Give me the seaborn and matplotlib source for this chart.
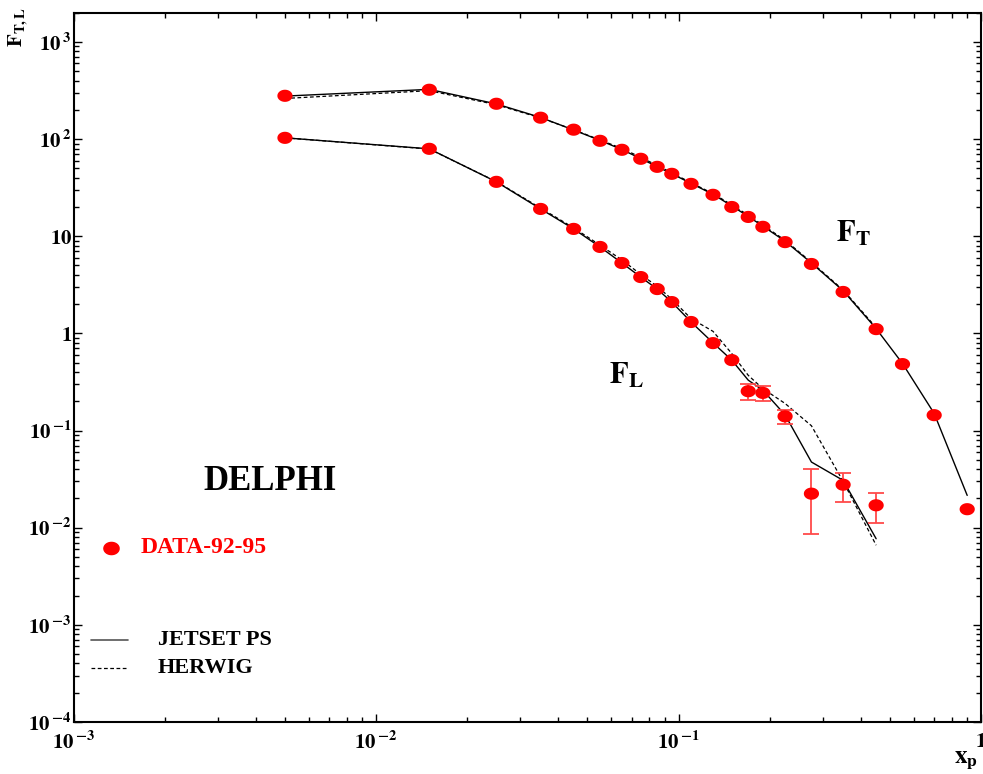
import numpy as np
import matplotlib
matplotlib.use("Agg")
import matplotlib.pyplot as plt
from matplotlib.path import Path
from matplotlib.markers import MarkerStyle
from matplotlib.ticker import FuncFormatter, LogLocator
import seaborn as sns

# x_p bin centres
x_bins = [0.005, 0.015, 0.025, 0.035, 0.045, 0.055, 0.065, 0.075, 0.085, 0.095,
          0.11, 0.13, 0.15, 0.17, 0.19, 0.225, 0.275, 0.35, 0.45, 0.55, 0.7, 0.9]

# F_T: data and the two MC curves
ft_data = [279, 322, 231, 166, 125, 96, 77.6, 62.7, 51.8, 43.9, 34.6, 26.7, 20.0,
           15.8, 12.5, 8.7, 5.18, 2.67, 1.107, 0.483, 0.144, 0.0155]
ft_jetset = [277, 325, 230, 167, 124, 97, 78, 63, 52, 44, 35, 27, 20.5, 16, 12.7,
             8.9, 5.3, 2.75, 1.12, 0.49, 0.150, 0.0215]
ft_herwig = [262, 315, 226, 165, 125, 98, 80, 65, 53.5, 45, 35.5, 27.5, 21, 16.5,
             13, 9.1, 5.4, 2.8, 1.15]

# F_L: data, MC curves, error bands on the last points
fl_data = [103, 79.4, 36.3, 19.1, 11.9, 7.76, 5.3, 3.80, 2.86, 2.10, 1.31, 0.794,
           0.531, 0.254, 0.244, 0.140, 0.0224, 0.0277, 0.017]
fl_jetset = [103, 79.4, 36.3, 19.1, 11.9, 7.76, 5.3, 3.80, 2.86, 2.10, 1.31, 0.80,
             0.53, 0.33, 0.26, 0.145, 0.0474, 0.0307, 0.0077]
fl_herwig = [103, 79, 36.5, 19.5, 12.2, 8.1, 5.7, 4.05, 3.05, 2.25, 1.42, 1.05,
             0.62, 0.37, 0.27, 0.19, 0.112, 0.030, 0.0066]
fl_err_x = [0.17, 0.19, 0.225, 0.275, 0.35, 0.45]
fl_err_y = [0.254, 0.244, 0.140, 0.0224, 0.0277, 0.017]
fl_err_hi = [0.302, 0.288, 0.164, 0.0402, 0.0366, 0.023]
fl_err_lo = [0.204, 0.202, 0.117, 0.00853, 0.01836, 0.01115]

sns.set_style("ticks")
plt.rcParams["font.family"] = ["Liberation Serif", "DejaVu Serif"]
plt.rcParams["font.weight"] = "bold"
plt.rcParams["mathtext.fontset"] = "stix"
for k in ["text.color", "axes.labelcolor", "xtick.color", "ytick.color", "axes.edgecolor"]:
    plt.rcParams[k] = "black"

fig = plt.figure(figsize=(9.83, 7.74), dpi=100)
ax = fig.add_axes([0.0748, 0.0672, 0.9232, 0.9164])

t = np.linspace(0, 2 * np.pi, 40)
ell = MarkerStyle(Path(np.column_stack([1.25 * np.cos(t), np.sin(t)])))

red = "#ff0000"
ebar = "#ff4a4a"

# MC curves
sns.lineplot(x=x_bins, y=ft_jetset, ax=ax, color="black", lw=1.0, sort=False, estimator=None)
sns.lineplot(x=x_bins[:len(ft_herwig)], y=ft_herwig, ax=ax, color="black", lw=0.9,
             linestyle=(0, (3, 2)), sort=False, estimator=None)
sns.lineplot(x=x_bins[:len(fl_jetset)], y=fl_jetset, ax=ax, color="black", lw=1.0,
             sort=False, estimator=None)
sns.lineplot(x=x_bins[:len(fl_herwig)], y=fl_herwig, ax=ax, color="black", lw=0.9,
             linestyle=(0, (3, 2)), sort=False, estimator=None)

# error bars on F_L
yerr = [np.array(fl_err_y) - np.array(fl_err_lo), np.array(fl_err_hi) - np.array(fl_err_y)]
ax.errorbar(fl_err_x, fl_err_y, yerr=yerr, fmt="none", ecolor=ebar, elinewidth=1.3,
            capsize=5.5, capthick=1.3, zorder=3)

# data points
sns.scatterplot(x=x_bins, y=ft_data, ax=ax, marker=ell, s=120, color=red,
                edgecolor="none", zorder=4)
sns.scatterplot(x=x_bins[:len(fl_data)], y=fl_data, ax=ax, marker=ell, s=120,
                color=red, edgecolor="none", zorder=4)

ax.set_xscale("log")
ax.set_yscale("log")
ax.set_xlim(1e-3, 1)
ax.set_ylim(1e-4, 2000)


def fmt(v, pos):
    e = int(round(np.log10(v)))
    if e == 0:
        return r"$\mathbf{1}$"
    if e == 1:
        return r"$\mathbf{10}$"
    return r"$\mathbf{10}\,^{\mathbf{%d}}$" % e


ax.xaxis.set_major_locator(LogLocator(base=10, numticks=20))
ax.yaxis.set_major_locator(LogLocator(base=10, numticks=20))
ax.xaxis.set_minor_locator(LogLocator(base=10, subs=np.arange(2, 10), numticks=20))
ax.yaxis.set_minor_locator(LogLocator(base=10, subs=np.arange(2, 10), numticks=20))
ax.xaxis.set_major_formatter(FuncFormatter(fmt))
ax.yaxis.set_major_formatter(FuncFormatter(fmt))
ax.tick_params(which="both", direction="in", top=True, right=True, width=1.0,
               labelsize=15)
ax.tick_params(which="major", length=6)
ax.tick_params(which="minor", length=3.5)
ax.tick_params(axis="x", which="major", pad=7)
ax.tick_params(axis="y", which="major", pad=1)
for sp in ax.spines.values():
    sp.set_linewidth(1.5)
ax.set_xlabel("")
ax.set_ylabel("")

def axf(px, py):
    return ((px - 73.5) / 907.5, (722 - py) / 709.3)

ax.text(*axf(270, 482), "DELPHI", transform=ax.transAxes, fontsize=25,
        fontweight="bold", ha="center", va="center")
ax.scatter(*axf(111, 548), marker=ell, s=120, color=red, transform=ax.transAxes,
           clip_on=False)
ax.text(*axf(141, 548), "DATA-92-95", transform=ax.transAxes, fontsize=17,
        fontweight="bold", color=red, ha="left", va="center")
x0, y0 = axf(91, 640)
x1, _ = axf(128, 640)
ax.plot([x0, x1], [y0, y0], color="#555555", lw=1.2, transform=ax.transAxes)
ax.text(*axf(158, 640), "JETSET PS", transform=ax.transAxes, fontsize=16,
        fontweight="bold", ha="left", va="center")
_, y2 = axf(91, 668)
ax.plot([x0, x1], [y2, y2], color="black", lw=0.9, linestyle=(0, (3, 2)),
        transform=ax.transAxes)
ax.text(*axf(158, 668), "HERWIG", transform=ax.transAxes, fontsize=16,
        fontweight="bold", ha="left", va="center")

ax.text(*axf(836, 242), r"$\mathbf{F_T}$", transform=ax.transAxes, fontsize=22,
        ha="left", va="baseline")
ax.text(*axf(609, 384), r"$\mathbf{F_L}$", transform=ax.transAxes, fontsize=22,
        ha="left", va="baseline")

fig.text(0.019, 0.965, r"$\mathbf{F_{T,L}}$", rotation=90, fontsize=15,
         ha="center", va="center")
fig.text(0.983, 0.017, r"$\mathbf{x_p}$", fontsize=18, ha="center", va="center")

fig.savefig("out.png", dpi=100, facecolor="white")
